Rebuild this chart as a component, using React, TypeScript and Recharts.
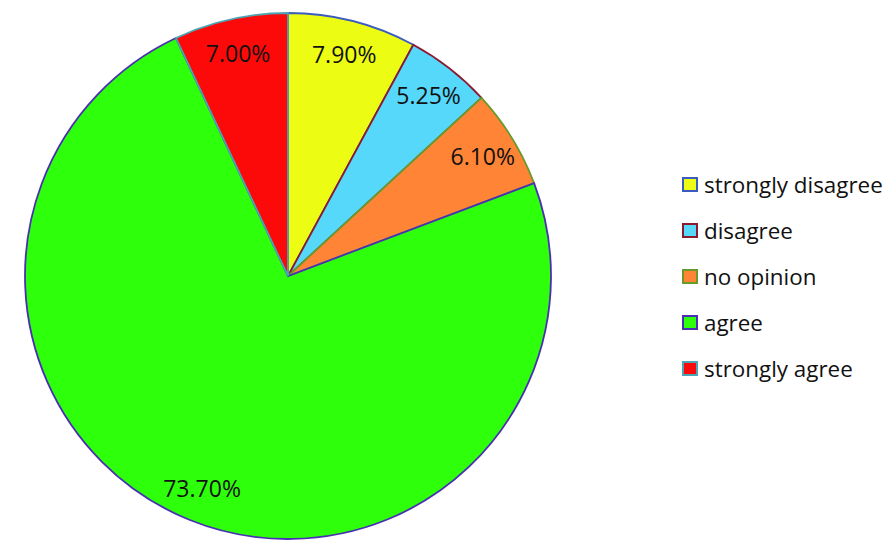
import { Cell, Legend, Pie, PieChart } from "recharts";

const categories = ["strongly disagree", "disagree", "no opinion", "agree", "strongly agree"];
const shares = [7.9, 5.25, 6.1, 73.7, 7.0];
const fills = ["#ecfd13", "#55d8fa", "#ff8436", "#2eff0a", "#fc0a0a"];
const strokes = ["#3b5bc0", "#8b1a30", "#6a9a2a", "#4a2fb5", "#4aa5b5"];

const data = categories.map((name, i) => ({ name, value: shares[i] }));

const font = "'Open Sans', sans-serif";
const RAD = Math.PI / 180;

function renderLabel(props: any) {
  const { cx, cy, midAngle, outerRadius, value } = props;
  const r = outerRadius * 0.87;
  const x = cx + r * Math.cos(-midAngle * RAD);
  const y = cy + r * Math.sin(-midAngle * RAD);
  return (
    <text
      x={x}
      y={y}
      fill="#111"
      textAnchor="middle"
      dominantBaseline="central"
      fontSize={23}
      fontFamily={font}
    >
      {value.toFixed(2)}%
    </text>
  );
}

function LegendBox() {
  return (
    <div style={{ fontFamily: font, fontSize: 22.4, color: "#111" }}>
      {categories.map((c, i) => (
        <div key={c} style={{ display: "flex", alignItems: "center", height: 46 }}>
          <span
            style={{
              display: "inline-block",
              width: 12,
              height: 11,
              background: fills[i],
              border: `2px solid ${strokes[i]}`,
              marginRight: 6,
            }}
          />
          <span>{c}</span>
        </div>
      ))}
    </div>
  );
}

export default function App() {
  return (
    <div style={{ width: 892, height: 549, background: "#fff" }}>
      <style>{"body{margin:0}"}</style>
      <PieChart width={892} height={549} margin={{ top: 0, right: 0, bottom: 0, left: 0 }}>
        <Pie
          data={data}
          dataKey="value"
          nameKey="name"
          cx={288}
          cy={276}
          outerRadius={263}
          startAngle={90}
          endAngle={-270}
          label={renderLabel}
          labelLine={false}
          isAnimationActive={false}
        >
          {data.map((d, i) => (
            <Cell key={d.name} fill={fills[i]} stroke={strokes[i]} strokeWidth={1.8} />
          ))}
        </Pie>
        <Legend
          layout="vertical"
          content={() => <LegendBox />}
          wrapperStyle={{ position: "absolute", left: 682, top: 161, width: 210 }}
        />
      </PieChart>
    </div>
  );
}
